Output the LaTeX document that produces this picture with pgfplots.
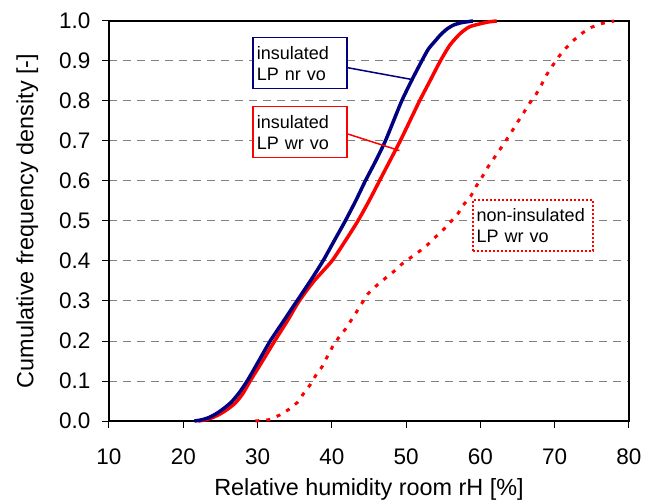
\documentclass[border=0pt]{standalone}
\usepackage{fontspec}
\setmainfont{Liberation Sans}
\usepackage{pgfplots}
\pgfplotsset{compat=1.18}
\definecolor{navyb}{RGB}{0,0,128}
\definecolor{redc}{RGB}{255,0,0}
\definecolor{gridgray}{RGB}{128,128,128}
\begin{document}
\begin{tikzpicture}
\begin{axis}[
  scale only axis, width=520bp, height=400bp,
  xmin=10, xmax=80, ymin=0, ymax=1,
  clip=false,
  axis line style={black, line width=1.2bp},
  xtick={10,20,30,40,50,60,70,80},
  ytick={0,0.1,0.2,0.3,0.4,0.5,0.6,0.7,0.8,0.9,1.0},
  tick align=outside, xtick pos=bottom, ytick pos=left,
  major tick length=7bp,
  tick style={black, line width=1bp},
  ymajorgrids,
  major grid style={gridgray, line width=1bp, dash pattern=on 8bp off 6bp},
  ticklabel style={font=\fontsize{22.5bp}{26bp}\selectfont},
  /pgf/number format/assume math mode=true,
  yticklabel style={xshift=-8bp, /pgf/number format/fixed, /pgf/number format/fixed zerofill, /pgf/number format/precision=1},
  xticklabel style={yshift=-17bp, /pgf/number format/fixed},
  xlabel={Relative humidity room rH [\%]},
  ylabel={Cumulative frequency density [-]},
  label style={font=\fontsize{23.4bp}{27bp}\selectfont},
  xlabel style={at={(axis description cs:0.5,-0.1868)}, anchor=base},
  ylabel style={at={(axis description cs:-0.1456,0.5)}, anchor=base},
]
% non-insulated LP wr vo (dotted)
\addplot[redc, line width=3bp, dash pattern=on 4bp off 7bp] coordinates {
(29.7,0) (31.5,0.003) (33.0,0.015) (34.3,0.03) (35.4,0.047) (36.2,0.069)
(37.1,0.091) (37.8,0.113) (38.7,0.136) (39.3,0.158) (40.1,0.186) (40.9,0.208)
(41.8,0.229) (42.6,0.252) (43.4,0.275) (44.1,0.296) (44.9,0.319) (46.1,0.34)
(47.2,0.357) (48.3,0.373) (49.4,0.392) (50.5,0.407) (51.7,0.423) (52.8,0.439)
(53.9,0.459) (55.0,0.478) (56.0,0.498) (57.0,0.519) (57.7,0.54) (58.7,0.562)
(59.4,0.586) (60.2,0.609) (60.9,0.632) (61.75,0.655) (62.6,0.678) (63.4,0.70)
(64.2,0.723) (65.0,0.747) (65.8,0.77) (66.6,0.794) (67.5,0.817) (68.2,0.84)
(68.9,0.865) (69.7,0.888) (70.55,0.911) (71.5,0.932) (72.5,0.951) (73.65,0.969)
(74.9,0.984) (76.4,0.994) (78.0,1.0)
};
% insulated LP wr vo (red)
\addplot[redc, line width=3.5bp, smooth, tension=0.4] coordinates {
(22.0,0) (23.0,0.003) (24.0,0.009) (25.0,0.018) (26.0,0.03) (27.0,0.045)
(28.0,0.068) (29.0,0.1) (30.5,0.145) (32.3,0.2) (34.0,0.25) (35.6,0.3)
(37.6,0.35) (40.0,0.4) (41.8,0.45) (43.5,0.5) (45.0,0.55) (46.4,0.6)
(47.8,0.65) (49.2,0.7) (50.5,0.75) (51.8,0.8) (53.2,0.85) (54.6,0.9)
(55.9,0.94) (57.3,0.969) (58.6,0.986) (60.9,0.997) (62.2,1.0)
};
% insulated LP nr vo (navy)
\addplot[navyb, line width=3.5bp, smooth, tension=0.4] coordinates {
(21.5,0) (22.5,0.003) (23.5,0.009) (24.5,0.019) (25.5,0.032) (26.5,0.048)
(27.5,0.07) (28.6,0.1) (30.0,0.145) (31.7,0.2) (33.5,0.25) (35.3,0.3)
(37.1,0.35) (38.8,0.4) (40.3,0.45) (41.8,0.5) (43.2,0.55) (44.5,0.6)
(45.9,0.65) (47.2,0.7) (48.3,0.75) (49.4,0.8) (50.7,0.85) (52.1,0.9)
(53.0,0.93) (54.0,0.952) (54.6,0.965) (55.5,0.98) (56.4,0.99) (57.5,0.996) (59.0,1.0)
};
% callouts
\draw[navyb, line width=1.5bp] (axis cs:41.9,0.884) -- (axis cs:51.0,0.853);
\draw[redc, line width=1.5bp] (axis cs:41.9,0.719) -- (axis cs:49.1,0.676);
\node[draw=navyb, line width=1.5bp, fill=white, anchor=north west, align=left,
  text width=86bp, inner xsep=4bp, inner ysep=0bp, minimum height=51bp,
  font=\fontsize{18bp}{21bp}\selectfont] at (axis cs:29.27,0.96) {insulated\\LP nr vo};
\node[draw=redc, line width=1.5bp, fill=white, anchor=north west, align=left,
  text width=86bp, inner xsep=4bp, inner ysep=0bp, minimum height=51bp,
  font=\fontsize{18bp}{21bp}\selectfont] at (axis cs:29.27,0.7875) {insulated\\LP wr vo};
\node[draw=redc, line width=1.8bp, dash pattern=on 2bp off 2bp, fill=white, anchor=north west, align=left,
  text width=112bp, inner xsep=4bp, inner ysep=0bp, minimum height=51bp,
  font=\fontsize{18bp}{21bp}\selectfont] at (axis cs:58.84,0.554) {non-insulated\\LP wr vo};
\end{axis}
\pgfresetboundingbox
\path (current axis.south west) ++(-109bp,-83bp) coordinate (bbA);
\path (current axis.north east) ++(26bp,21bp) coordinate (bbB);
\useasboundingbox (bbA) rectangle (bbB);
\end{tikzpicture}
\end{document}
